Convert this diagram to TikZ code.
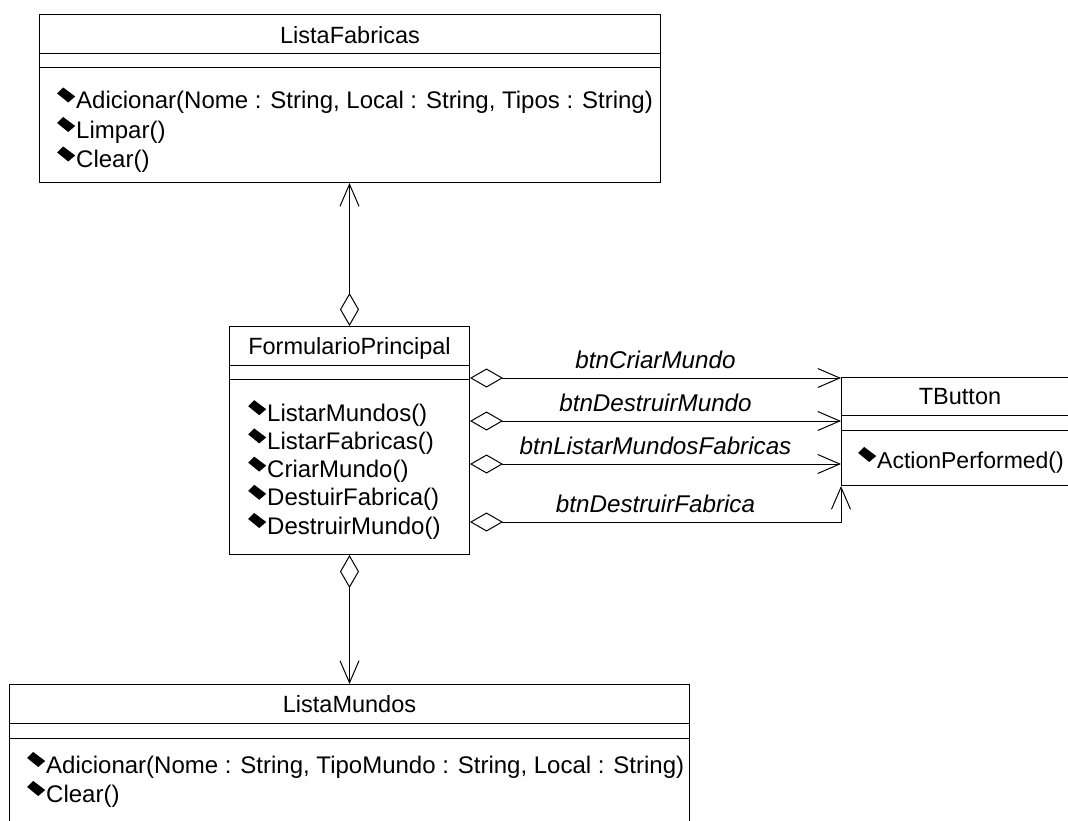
\documentclass[tikz,border=0pt]{standalone}
\usepackage{fontspec}
\setmainfont{Liberation Sans}
\usetikzlibrary{arrows.meta}

\newcommand\opmark{\tikz[x=1pt,y=1pt,baseline=0pt]\fill (0,15) -- (6,21) -- (18,12) -- (11,6) -- cycle;\hspace{1pt}}

\begin{document}
\begin{tikzpicture}[
  x=1pt, y=-1pt, line width=1pt,
  font=\fontsize{23.5}{29}\selectfont,
  classbox/.style={draw, anchor=north west, inner sep=0pt},
  classname/.style={anchor=base, inner sep=0pt},
  op/.style={anchor=base west, inner sep=0pt, font=\fontsize{24}{29}\selectfont},
  aggr/.style={{Diamond[open,length=33pt,width=19pt]}-{Straight Barb[length=22pt,width=19pt]}},
  role/.style={above=5pt, font=\fontsize{24.2}{29}\selectfont\itshape}
]
\useasboundingbox (0,0) rectangle (1068,820);

% classes
\node[classbox, minimum width=621pt, minimum height=168pt] (fab) at (39,14) {};
\node[classbox, minimum width=240pt, minimum height=228pt] (fp) at (229,326) {};
\node[classbox, minimum width=237pt, minimum height=108pt] (tb) at (841,377) {};
\node[classbox, minimum width=680pt, minimum height=160pt] (lm) at (9,684) {};

\node[classname] (fabname) at (fab.north |- 0,43) {ListaFabricas};
\node[classname] (fpname) at (fp.north |- 0,354) {FormularioPrincipal};
\node[classname] (tbname) at (tb.north |- 0,404) {TButton};
\node[classname] (lmname) at (lm.north |- 0,712) {ListaMundos};

% compartments
\draw (fab.west |- 0,53) -- (fab.east |- 0,53);
\draw (fab.west |- 0,67) -- (fab.east |- 0,67);
\draw (fp.west |- 0,365) -- (fp.east |- 0,365);
\draw (fp.west |- 0,379) -- (fp.east |- 0,379);
\draw (tb.west |- 0,415) -- (tb.east |- 0,415);
\draw (tb.west |- 0,430) -- (tb.east |- 0,430);
\draw (lm.west |- 0,723) -- (lm.east |- 0,723);
\draw (lm.west |- 0,738) -- (lm.east |- 0,738);

% operations
\foreach \txt [count=\i] in {{Adicionar(Nome : String, Local : String, Tipos : String)}, Limpar(), Clear()}
  \node[op] (fabop\i) at (57, 79+29.5*\i) {\opmark\txt};
\foreach \txt [count=\i] in {ListarMundos(), ListarFabricas(), CriarMundo(), DestuirFabrica(), DestruirMundo()}
  \node[op] (fpop\i) at (248, 393+28.2*\i) {\opmark\txt};
\node[op, font=\fontsize{23}{29}\selectfont] (tbop1) at (858,468) {\opmark ActionPerformed()};
\foreach \txt [count=\i] in {{Adicionar(Nome : String, TipoMundo : String, Local : String)}, Clear()}
  \node[op] (lmop\i) at (27, 744+29*\i) {\opmark\txt};

% associations
\draw[aggr] (fp.north) -- (fp.north |- fab.south);
\draw[aggr] (fp.south) -- (fp.south |- lm.north);
\draw[aggr] (fp.east |- 0,378) -- (tb.west |- 0,378) node[midway, role] (criar) {btnCriarMundo};
\draw[aggr] (fp.east |- 0,421) -- (tb.west |- 0,421) node[midway, role] (destmundo) {btnDestruirMundo};
\draw[aggr] (fp.east |- 0,464) -- (tb.west |- 0,464) node[midway, role] (listar) {btnListarMundosFabricas};
\draw[aggr] (fp.east |- 0,522) -| (tb.south west) node[pos=0.25, role] (destfab) {btnDestruirFabrica};
\end{tikzpicture}
\end{document}
